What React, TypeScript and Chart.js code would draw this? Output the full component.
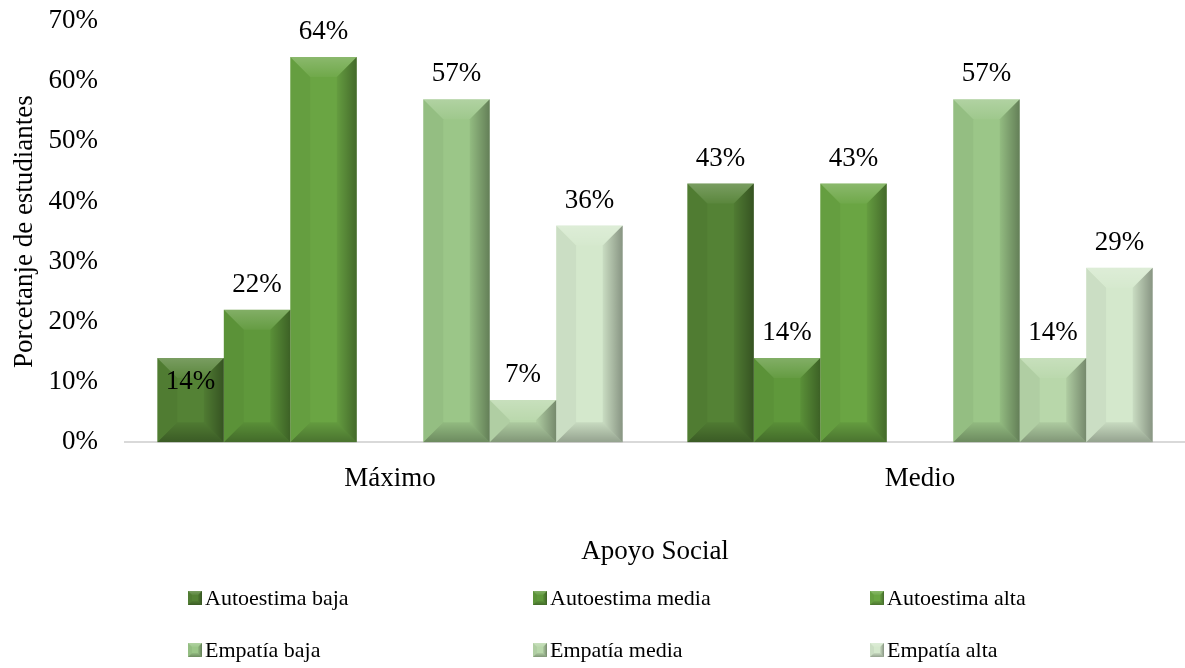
import React, { useEffect, useRef } from "react";
import { Chart, registerables } from "chart.js";

Chart.register(...registerables);

const categories = ["Máximo", "Medio"];
const seriesNames = [
  "Autoestima baja",
  "Autoestima media",
  "Autoestima alta",
  "",
  "Empatía baja",
  "Empatía media",
  "Empatía alta",
];
const autoestimaBaja = [14, 43];
const autoestimaMedia = [22, 14];
const autoestimaAlta = [64, 43];
const separador = [null, null];
const empatiaBaja = [57, 57];
const empatiaMedia = [7, 14];
const empatiaAlta = [36, 29];
const yTicks = [0, 10, 20, 30, 40, 50, 60, 70];

const seriesValues = [
  autoestimaBaja,
  autoestimaMedia,
  autoestimaAlta,
  separador,
  empatiaBaja,
  empatiaMedia,
  empatiaAlta,
];
const seriesColors = [
  "#548235",
  "#5f983b",
  "#6aa543",
  "rgba(0,0,0,0)",
  "#9bc688",
  "#b8d7aa",
  "#d4e8cc",
];

const FONT = "'Liberation Serif', 'Times New Roman', serif";

function bevel(ctx: CanvasRenderingContext2D, l: number, t: number, r: number, btm: number, size: number) {
  const b = Math.max(0, Math.min(size, (r - l) / 2 - 1, (btm - t) / 2));
  if (b <= 0) return;
  // top
  ctx.beginPath();
  ctx.moveTo(l, t);
  ctx.lineTo(r, t);
  ctx.lineTo(r - b, t + b);
  ctx.lineTo(l + b, t + b);
  ctx.closePath();
  const gt = ctx.createLinearGradient(0, t, 0, t + b);
  gt.addColorStop(0, "rgba(255,255,255,0.22)");
  gt.addColorStop(1, "rgba(255,255,255,0.04)");
  ctx.fillStyle = gt;
  ctx.fill();
  // left
  ctx.beginPath();
  ctx.moveTo(l, t);
  ctx.lineTo(l + b, t + b);
  ctx.lineTo(l + b, btm - b);
  ctx.lineTo(l, btm);
  ctx.closePath();
  ctx.fillStyle = "rgba(0,0,0,0.04)";
  ctx.fill();
  // right
  ctx.beginPath();
  ctx.moveTo(r, t);
  ctx.lineTo(r - b, t + b);
  ctx.lineTo(r - b, btm - b);
  ctx.lineTo(r, btm);
  ctx.closePath();
  const gr = ctx.createLinearGradient(r - b, 0, r, 0);
  gr.addColorStop(0, "rgba(0,0,0,0.05)");
  gr.addColorStop(1, "rgba(0,0,0,0.36)");
  ctx.fillStyle = gr;
  ctx.fill();
  // bottom
  ctx.beginPath();
  ctx.moveTo(l, btm);
  ctx.lineTo(l + b, btm - b);
  ctx.lineTo(r - b, btm - b);
  ctx.lineTo(r, btm);
  ctx.closePath();
  const gb = ctx.createLinearGradient(0, btm - b, 0, btm);
  gb.addColorStop(0, "rgba(0,0,0,0.06)");
  gb.addColorStop(1, "rgba(0,0,0,0.3)");
  ctx.fillStyle = gb;
  ctx.fill();
}

const barDecor = {
  id: "barDecor",
  afterDatasetsDraw(chart: any, _args: any, opts: any) {
    const ctx: CanvasRenderingContext2D = chart.ctx;
    ctx.save();
    chart.data.datasets.forEach((ds: any, di: number) => {
      if (!ds.label) return;
      const meta = chart.getDatasetMeta(di);
      meta.data.forEach((bar: any, i: number) => {
        const v = ds.data[i];
        if (v == null) return;
        const p = bar.getProps(["x", "y", "base", "width"], true);
        const l = p.x - p.width / 2;
        const r = p.x + p.width / 2;
        bevel(ctx, l, p.y, r, p.base, 20);
        const inside = opts.inside.some((q: number[]) => q[0] === di && q[1] === i);
        ctx.fillStyle = "#000";
        ctx.font = `27px ${FONT}`;
        ctx.textAlign = "center";
        ctx.textBaseline = "middle";
        ctx.fillText(`${v}%`, p.x, inside ? p.y + 24 : p.y - 25);
      });
    });
    ctx.restore();
  },
};

const customLegend = {
  id: "customLegend",
  afterDraw(chart: any) {
    const ctx: CanvasRenderingContext2D = chart.ctx;
    const cols = [188, 533, 870];
    const rows = [chart.height - 70, chart.height - 18];
    ctx.save();
    let k = 0;
    chart.data.datasets.forEach((ds: any) => {
      if (!ds.label) return;
      const cx = cols[k % 3];
      const cy = rows[Math.floor(k / 3)];
      ctx.fillStyle = ds.backgroundColor;
      ctx.fillRect(cx, cy - 7, 14, 14);
      bevel(ctx, cx, cy - 7, cx + 14, cy + 7, 4);
      ctx.fillStyle = "#000";
      ctx.font = `22px ${FONT}`;
      ctx.textAlign = "left";
      ctx.textBaseline = "middle";
      ctx.fillText(ds.label, cx + 17, cy + 1);
      k++;
    });
    ctx.restore();
  },
};

export default function App() {
  const ref = useRef<HTMLCanvasElement | null>(null);
  useEffect(() => {
    if (!ref.current) return;
    const chart = new Chart(ref.current, {
      type: "bar",
      data: {
        labels: categories,
        datasets: seriesNames.map((name, i) => ({
          label: name,
          data: seriesValues[i],
          backgroundColor: seriesColors[i],
          borderWidth: 0,
          categoryPercentage: 0.878,
          barPercentage: 1,
        })),
      },
      options: {
        animation: false,
        responsive: false,
        maintainAspectRatio: false,
        layout: { padding: { top: 21, right: 0, bottom: 100, left: 0 } },
        plugins: {
          legend: { display: false },
          tooltip: { enabled: false },
          barDecor: { inside: [[0, 0]] },
        } as any,
        scales: {
          x: {
            grid: { display: false, drawTicks: false },
            border: { display: true, color: "#d9d9d9", width: 2 },
            ticks: { color: "#000", font: { family: FONT, size: 27 }, padding: 21 },
            title: {
              display: true,
              text: "Apoyo Social",
              color: "#000",
              font: { family: FONT, size: 27 },
              padding: { top: 19, bottom: 0 },
            },
          },
          y: {
            min: 0,
            max: 70,
            afterBuildTicks: (scale: any) => {
              scale.ticks = yTicks.map((v) => ({ value: v }));
            },
            afterFit: (scale: any) => {
              scale.width = 125;
              scale.paddingTop = 0;
              scale.paddingBottom = 0;
            },
            grid: { display: false, drawTicks: false },
            border: { display: false },
            ticks: {
              color: "#000",
              font: { family: FONT, size: 27 },
              padding: 27,
              callback: (v: any) => `${v}%`,
            },
            title: {
              display: true,
              text: "Porcetanje de estudiantes",
              color: "#000",
              font: { family: FONT, size: 27 },
              padding: { top: 9, bottom: 0 },
            },
          },
        },
      },
      plugins: [barDecor, customLegend],
    });
    return () => chart.destroy();
  }, []);
  return (
    <div style={{ position: "fixed", left: 0, top: 0, width: 1185, height: 668, background: "#fff" }}>
      <canvas ref={ref} width={1185} height={668} style={{ width: 1185, height: 668, display: "block" }} />
    </div>
  );
}
